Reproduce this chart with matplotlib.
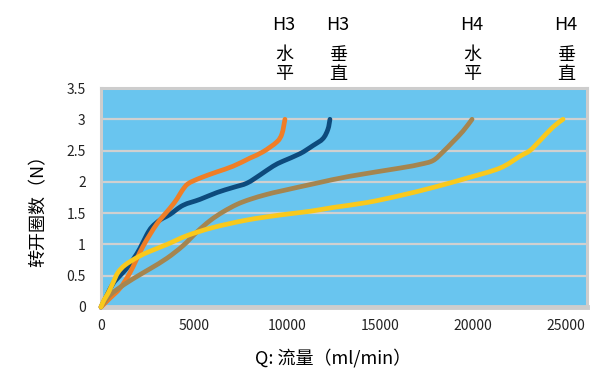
import matplotlib
matplotlib.use("Agg")
import matplotlib.pyplot as plt
from matplotlib.path import Path
from matplotlib.patches import PathPatch

plt.rcParams['font.family'] = ['Noto Sans CJK SC', 'DejaVu Sans']

# H3 水平 (orange)
h3_shui_x = [0, 480, 1020, 1560, 2260, 3010, 3710, 4090, 4360, 4680, 5320,
             6240, 7100, 8010, 8710, 9460, 9730, 9890]
h3_shui_y = [0, 0.14, 0.30, 0.55, 0.97, 1.33, 1.58, 1.73, 1.86, 1.97, 2.06,
             2.16, 2.25, 2.38, 2.48, 2.64, 2.77, 3.0]

# H3 垂直 (dark blue)
h3_chui_x = [0, 320, 650, 1020, 1400, 1770, 2100, 2470, 2740, 3170, 3710,
             4410, 5320, 6240, 7100, 7850, 8550, 9250, 9780, 10700, 11400,
             11930, 12200, 12310]
h3_chui_y = [0, 0.19, 0.375, 0.5, 0.625, 0.78, 0.94, 1.16, 1.28, 1.39, 1.48,
             1.625, 1.72, 1.83, 1.91, 1.98, 2.11, 2.25, 2.33, 2.45, 2.58,
             2.69, 2.84, 3.0]

# H4 水平 (brown)
h4_shui_x = [0, 380, 860, 1720, 2630, 3550, 4410, 5160, 5860, 6560, 7310,
             8010, 8920, 9780, 11610, 13390, 16070, 17150, 17850, 18390,
             18920, 19460, 19950]
h4_shui_y = [0, 0.16, 0.28, 0.45, 0.61, 0.78, 0.98, 1.20, 1.38, 1.52, 1.64,
             1.72, 1.80, 1.86, 1.98, 2.09, 2.22, 2.28, 2.34, 2.48, 2.64,
             2.81, 3.0]

# H4 垂直 (yellow)
h4_chui_x = [0, 160, 380, 650, 910, 1290, 1990, 2630, 3550, 4620, 6020,
             7850, 9620, 11240, 12470, 14300, 16070, 17850, 19680, 21450,
             22530, 23060, 23600, 24300, 24840]
h4_chui_y = [0, 0.11, 0.22, 0.39, 0.55, 0.67, 0.80, 0.89, 1.0, 1.14, 1.27,
             1.39, 1.47, 1.53, 1.59, 1.67, 1.78, 1.91, 2.06, 2.22, 2.41,
             2.5, 2.66, 2.875, 3.0]

x_ticks = [0, 5000, 10000, 15000, 20000, 25000]
y_ticks = [0, 0.5, 1, 1.5, 2, 2.5, 3, 3.5]
y_tick_labels = ['0', '0.5', '1', '1.5', '2', '2.5', '3', '3.5']

headers = [('H3', '水', '平', 284), ('H3', '垂', '直', 338),
           ('H4', '水', '平', 472), ('H4', '垂', '直', 566)]


def smooth_path(xs, ys):
    # Excel-like smoothed line: cubic bezier through every point
    pts = list(zip(xs, ys))
    n = len(pts)
    verts = [pts[0]]
    codes = [Path.MOVETO]
    for i in range(n - 1):
        p0 = pts[max(i - 1, 0)]
        p1 = pts[i]
        p2 = pts[i + 1]
        p3 = pts[min(i + 2, n - 1)]
        c1 = (p1[0] + (p2[0] - p0[0]) / 6, p1[1] + (p2[1] - p0[1]) / 6)
        c2 = (p2[0] - (p3[0] - p1[0]) / 6, p2[1] - (p3[1] - p1[1]) / 6)
        verts += [c1, c2, p2]
        codes += [Path.CURVE4] * 3
    return Path(verts, codes)


W, H = 595, 372
fig = plt.figure(figsize=(W / 100, H / 100), dpi=100)
ax = fig.add_axes([101 / W, 1 - 307 / H, (587 - 101) / W, (307 - 88) / H])
ax.set_facecolor('#69C5EF')

ax.set_xlim(0, 26130)
ax.set_ylim(0, 3.5)
ax.set_xticks(x_ticks)
ax.set_xticklabels([str(v) for v in x_ticks])
ax.set_yticks(y_ticks)
ax.set_yticklabels(y_tick_labels)
ax.tick_params(axis='both', length=0, labelsize=10, colors='#222222')
ax.tick_params(axis='y', pad=11)
ax.tick_params(axis='x', pad=9)

ax.grid(axis='y', color='#D0D0D0', linewidth=1.6)
ax.set_axisbelow(True)
for side in ['top', 'left', 'right']:
    ax.spines[side].set_color('#CDCDCD')
    ax.spines[side].set_linewidth(2.2)
ax.spines['bottom'].set_color('#CDCDCD')
ax.spines['bottom'].set_linewidth(3.5)

series = [(h3_chui_x, h3_chui_y, '#0D4A7C'),
          (h3_shui_x, h3_shui_y, '#F07E26'),
          (h4_shui_x, h4_shui_y, '#A5854F'),
          (h4_chui_x, h4_chui_y, '#F9C91C')]
for xs, ys, color in series:
    patch = PathPatch(smooth_path(xs, ys), fill=False, edgecolor=color,
                      linewidth=3.4, capstyle='round', joinstyle='round',
                      clip_on=False, zorder=3)
    ax.add_patch(patch)

for top, c1, c2, px in headers:
    fig.text(px / W, 1 - 25 / H, top, ha='center', va='center', fontsize=13)
    fig.text(px / W, 1 - 55 / H, c1, ha='center', va='center', fontsize=13)
    fig.text(px / W, 1 - 74 / H, c2, ha='center', va='center', fontsize=13)

fig.text(333 / W, 1 - 358 / H, 'Q: 流量（ml/min）', ha='center', va='center',
         fontsize=13)
fig.text(39 / W, 1 - 206 / H, '转开圈数（N）', ha='center', va='center',
         rotation=90, fontsize=13)

fig.savefig('out.png', dpi=100)
